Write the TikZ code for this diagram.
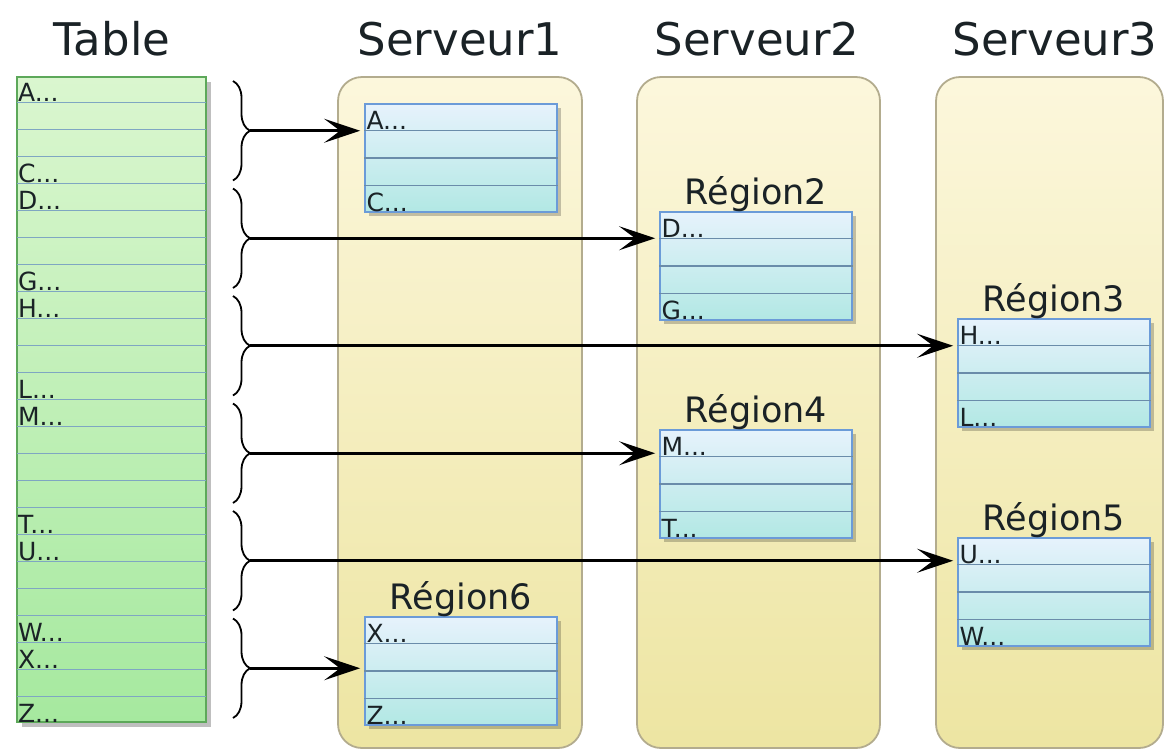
\documentclass[tikz,border=0pt]{standalone}
\usepackage{fontspec}
\setmainfont{DejaVu Sans}
\usetikzlibrary{arrows.meta,decorations.pathreplacing,shadows,calc}

\definecolor{tabletop}{HTML}{DAF6CF}
\definecolor{tablebot}{HTML}{A6E99F}
\definecolor{tableedge}{HTML}{5DA85A}
\definecolor{tableline}{HTML}{7FA6C2}
\definecolor{regiontop}{HTML}{E6F2FC}
\definecolor{regionbot}{HTML}{B2E8E4}
\definecolor{regionedge}{HTML}{6B9BD8}
\definecolor{regionline}{HTML}{6A8CAA}
\definecolor{servertop}{HTML}{FCF7DC}
\definecolor{serverbot}{HTML}{EDE5A2}
\definecolor{serveredge}{HTML}{B3AC8E}
\definecolor{inktext}{HTML}{1A2226}

\begin{document}
\begin{tikzpicture}[x=0.5pt,y=-0.5pt,
  title/.style={font=\fontsize{22.5}{27}\selectfont, text=inktext, inner sep=0, anchor=base},
  rlabel/.style={font=\fontsize{17.5}{21}\selectfont, text=inktext, inner sep=0, anchor=base},
  key/.style={font=\fontsize{12.5}{15}\selectfont, text=inktext, inner sep=0, anchor=base west},
  tablebox/.style={draw=tableedge, line width=1.3pt, top color=tabletop, bottom color=tablebot,
    minimum width=94.5pt, minimum height=322.5pt, inner sep=0,
    drop shadow={shadow xshift=2.5pt, shadow yshift=-2.5pt, opacity=0.25, fill=black}},
  serverbox/.style={draw=serveredge, line width=0.9pt, rounded corners=12pt,
    top color=servertop, bottom color=serverbot, minimum height=335.5pt, inner sep=0},
  regionbox/.style={draw=regionedge, line width=0.9pt, top color=regiontop, bottom color=regionbot,
    minimum width=96pt, minimum height=54pt, inner sep=0,
    drop shadow={shadow xshift=2pt, shadow yshift=-2pt, opacity=0.22, fill=black}},
  tline/.style={draw=tableline, line width=0.7pt},
  rline/.style={draw=regionline, line width=0.6pt},
  brc/.style={decorate, decoration={brace, amplitude=8.5pt}, line width=0.9pt},
  arr/.style={-{Stealth[length=18pt,width=12pt,inset=8pt]}, line width=1.3pt, shorten >=2pt}
]
\useasboundingbox (0,0) rectangle (1166,751);

% column titles
\node[title] (ttable) at (112,55) {Table};
\node[title] (ts1) at (460,55) {Serveur1};
\node[title] (ts2) at (757,55) {Serveur2};
\node[title] (ts3) at (1055,55) {Serveur3};

% servers
\node[serverbox, minimum width=122pt] (s1) at (460,412.5) {};
\node[serverbox, minimum width=121.5pt] (s2) at (758.5,412.5) {};
\node[serverbox, minimum width=113.5pt] (s3) at (1049.5,412.5) {};

% the table and its 24 rows
\node[tablebox] (tab) at (111.5,399.5) {};
\foreach \k in {1,...,23}
  \draw[tline] ($(tab.north west)!\k/24!(tab.south west)+(1.5,0)$) -- ($(tab.north east)!\k/24!(tab.south east)+(-1.5,0)$);
\foreach \k/\lab in {1/A,4/C,5/D,8/G,9/H,12/L,13/M,17/T,18/U,21/W,22/X,24/Z}
  \node[key] (t\lab) at ($(tab.north west)!\k/24!(tab.south west)+(2,-1)$) {\lab...};

% regions
\node[regionbox] (r1) at (461,158) {};
\node[regionbox] (r2) at (756,266) {};
\node[regionbox] (r3) at (1054,373) {};
\node[regionbox] (r4) at (756,484) {};
\node[regionbox] (r5) at (1054,592) {};
\node[regionbox] (r6) at (461,671) {};
\foreach \r in {r1,r2,r3,r4,r5,r6}
  \foreach \k in {1,2,3}
    \draw[rline] ($(\r.north west)!\k/4!(\r.south west)$) -- ($(\r.north east)!\k/4!(\r.south east)$);

\foreach \r/\a/\b in {r1/A/C,r2/D/G,r3/H/L,r4/M/T,r5/U/W,r6/X/Z}{
  \node[key] (\r a) at ($(\r.north west)!0.25!(\r.south west)+(2,-1)$) {\a...};
  \node[key] (\r b) at ($(\r.south west)+(2,-1)$) {\b...};
}

% region titles
\node[rlabel] (l2) at ($(r2.north)+(0,-7)$) {Région2};
\node[rlabel] (l3) at ($(r3.north)+(0,-7)$) {Région3};
\node[rlabel] (l4) at ($(r4.north)+(0,-7)$) {Région4};
\node[rlabel] (l5) at ($(r5.north)+(0,-7)$) {Région5};
\node[rlabel] (l6) at ($(r6.north)+(0,-7)$) {Région6};

% key ranges grouped by braces, each sent to its region
\foreach \i/\reg in {0/r1,1/r2,2/r3,3/r4,4/r5,5/r6}{
  \coordinate (bt\i) at (233,{77+107.5*\i+4});
  \coordinate (bb\i) at (233,{77+107.5*\i+103.5});
  \draw[brc] (bt\i) -- (bb\i);
  \coordinate (tip\i) at (250,{77+107.5*\i+53.75});
  \draw[arr] (tip\i) -- (tip\i -| \reg.west);
}
\end{tikzpicture}
\end{document}
